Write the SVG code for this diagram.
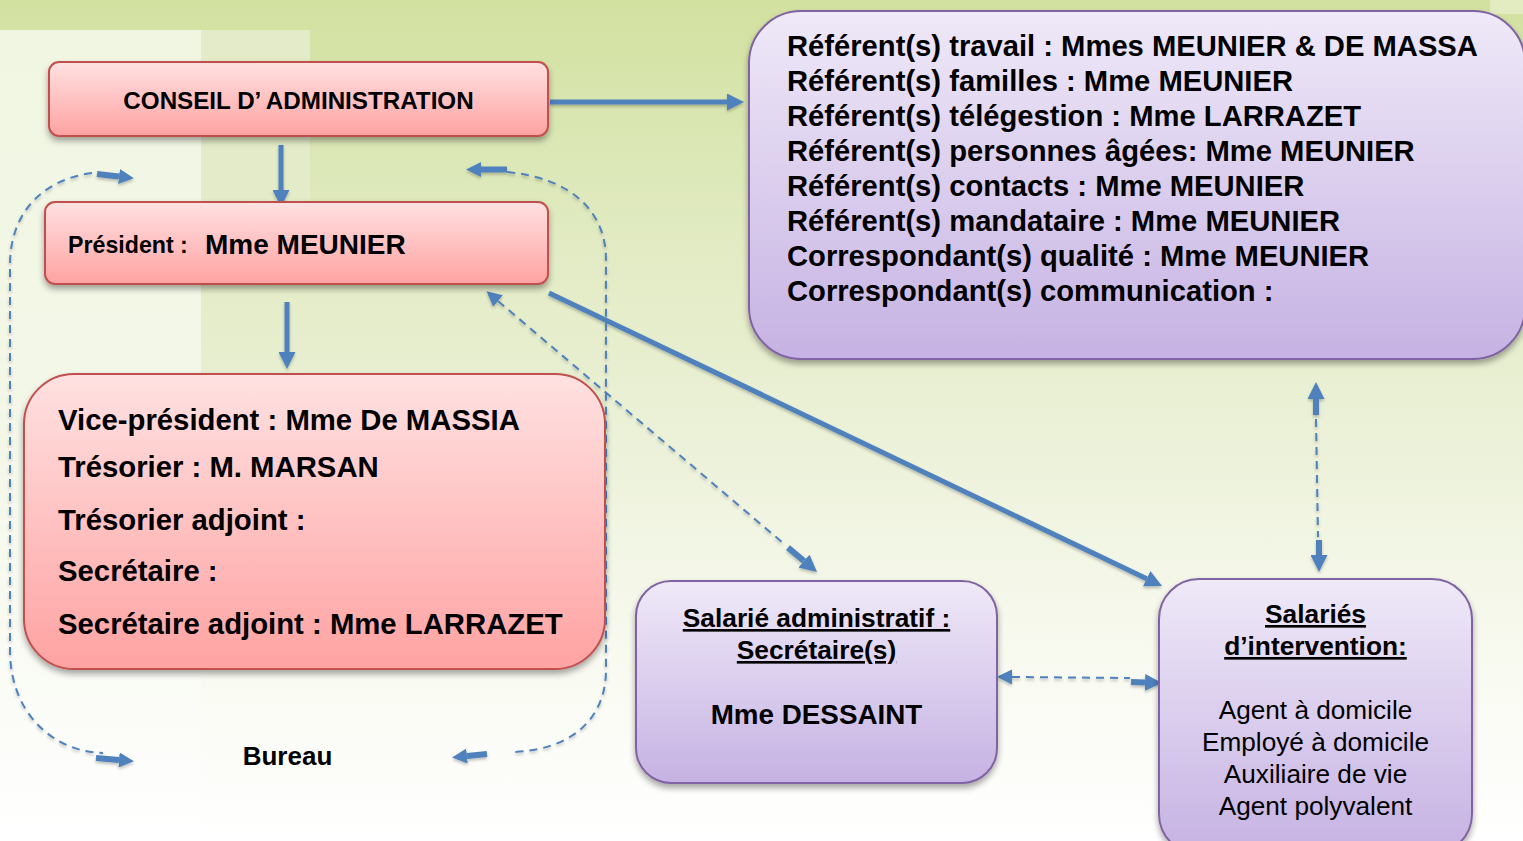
<svg xmlns="http://www.w3.org/2000/svg" width="1523" height="841" viewBox="0 0 1523 841">
<defs>
<style>
.t{font-family:"Liberation Sans",Arial,sans-serif;font-weight:bold;fill:#000}
.r{font-family:"Liberation Sans",Arial,sans-serif;font-weight:normal;fill:#000}
.pink{fill:url(#gPink);stroke:#c0504d;stroke-width:2}
.purp{fill:url(#gPurp);stroke:#8064a2;stroke-width:2}
.sol{fill:none;stroke:#4f81bd;stroke-width:5}
.stub{fill:none;stroke:#4f81bd;stroke-width:6}
.dash{fill:none;stroke:#4f81bd;stroke-width:2;stroke-dasharray:8 6}
.u{text-decoration:underline}
</style>
<linearGradient id="bg" x1="0" y1="0" x2="0" y2="1">
<stop offset="0" stop-color="#d2e1a0"/>
<stop offset="0.3" stop-color="#e2ebc4"/>
<stop offset="0.55" stop-color="#edf2db"/>
<stop offset="0.78" stop-color="#f8faf0"/>
<stop offset="1" stop-color="#ffffff"/>
</linearGradient>
<linearGradient id="bgL" x1="0" y1="0" x2="0" y2="1">
<stop offset="0" stop-color="#f1f6e2"/>
<stop offset="0.5" stop-color="#f3f7e8"/>
<stop offset="1" stop-color="#ffffff"/>
</linearGradient>
<linearGradient id="gPink" x1="0" y1="0" x2="0" y2="1">
<stop offset="0" stop-color="#ffe1e1"/>
<stop offset="1" stop-color="#ffa2a2"/>
</linearGradient>
<linearGradient id="gPurp" x1="0" y1="0" x2="0" y2="1">
<stop offset="0" stop-color="#efe9f8"/>
<stop offset="1" stop-color="#c6b2e3"/>
</linearGradient>
<filter id="sh" x="-10%" y="-10%" width="120%" height="130%">
<feDropShadow dx="0" dy="4" stdDeviation="3" flood-color="#000" flood-opacity="0.35"/>
</filter>
<filter id="ash" x="-20%" y="-20%" width="140%" height="140%">
<feDropShadow dx="0" dy="2" stdDeviation="1.5" flood-color="#000" flood-opacity="0.25"/>
</filter>
<marker id="ah" markerUnits="userSpaceOnUse" viewBox="0 0 17 17" markerWidth="17" markerHeight="17" refX="0" refY="8.5" orient="auto">
<path d="M0,0 L17,8.5 L0,17 z" fill="#4f81bd"/>
</marker>
<marker id="as" markerUnits="userSpaceOnUse" viewBox="0 0 15 15" markerWidth="15" markerHeight="15" refX="0" refY="7.5" orient="auto-start-reverse">
<path d="M0,0 L15,7.5 L0,15 z" fill="#4f81bd"/>
</marker>
</defs>

<g id="background">
<rect x="0" y="0" width="1523" height="841" fill="url(#bg)"/>
<rect x="0" y="30" width="201" height="811" fill="url(#bgL)"/>
<rect x="201" y="30" width="109" height="180" fill="#e3ebc8"/>
<rect x="1490" y="0" width="33" height="14" fill="#e2ecc0"/>
</g>

<g id="connectors" filter="url(#ash)">
<path class="sol" d="M550,102 L727,102" marker-end="url(#ah)"/>
<path class="sol" d="M281,145 L281,190" marker-end="url(#ah)"/>
<path class="sol" d="M287,302 L287,352" marker-end="url(#ah)"/>
<path class="sol" d="M549,293 L1146.7,578.7" marker-end="url(#ah)"/>
<path class="dash" d="M498,301 L783,543" marker-start="url(#as)"/>
<path class="stub" d="M788,547.6 L804,561" marker-end="url(#ah)"/>
<path class="dash" d="M1012,677 L1130,678" marker-start="url(#as)"/>
<path class="stub" d="M1131,682 L1145,682.5" marker-end="url(#ah)"/>
<path class="stub" d="M1316,415 L1316,399" marker-end="url(#ah)"/>
<path class="dash" d="M1316,419 L1318,537"/>
<path class="stub" d="M1319,540 L1319,555" marker-end="url(#ah)"/>
<path class="dash" d="M92,173 C40,180 10,215 10,265 L10,650 C10,715 55,752 103,753"/>
<path class="stub" d="M97,174 L119,176.5" marker-end="url(#as)"/>
<path class="stub" d="M96,758 L119,760" marker-end="url(#as)"/>
<path class="dash" d="M507,172 C570,178 606,210 606,260 L606,670 C606,720 570,750 513,752"/>
<path class="stub" d="M507,169.5 L481,169.5" marker-end="url(#as)"/>
<path class="stub" d="M487,754 L467,756" marker-end="url(#as)"/>
</g>

<g id="conseil">
<rect class="pink" x="49" y="62" width="499" height="74" rx="10" filter="url(#sh)"/>
<text class="t" x="298.5" y="109" font-size="24.2" text-anchor="middle">CONSEIL D’ ADMINISTRATION</text>
</g>

<g id="president">
<rect class="pink" x="45" y="202" width="503" height="82" rx="10" filter="url(#sh)"/>
<text class="t" x="68" y="253" font-size="23.2">Président :</text>
<text class="t" x="205" y="254" font-size="28">Mme MEUNIER</text>
</g>

<g id="bureau-membres">
<rect class="pink" x="24" y="374" width="581" height="295" rx="50" filter="url(#sh)"/>
<text class="t" x="58" y="430" font-size="29.3">Vice-président : Mme De MASSIA</text>
<text class="t" x="58" y="477" font-size="29.3">Trésorier : M. MARSAN</text>
<text class="t" x="58" y="530" font-size="29.3">Trésorier adjoint :</text>
<text class="t" x="58" y="581" font-size="29.3">Secrétaire :</text>
<text class="t" x="58" y="634" font-size="29.3">Secrétaire adjoint : Mme LARRAZET</text>
</g>

<g id="bureau-label">
<text class="t" x="287.5" y="765" font-size="26" text-anchor="middle">Bureau</text>
</g>

<g id="referents">
<rect class="purp" x="749" y="11" width="776" height="348" rx="52" filter="url(#sh)"/>
<text class="t" x="787" y="56" font-size="29.2">Référent(s) travail : Mmes MEUNIER &amp; DE MASSA</text>
<text class="t" x="787" y="91" font-size="29.2">Référent(s) familles : Mme MEUNIER</text>
<text class="t" x="787" y="126" font-size="29.2">Référent(s) télégestion : Mme LARRAZET</text>
<text class="t" x="787" y="161" font-size="29.2">Référent(s) personnes âgées: Mme MEUNIER</text>
<text class="t" x="787" y="196" font-size="29.2">Référent(s) contacts : Mme MEUNIER</text>
<text class="t" x="787" y="231" font-size="29.2">Référent(s) mandataire : Mme MEUNIER</text>
<text class="t" x="787" y="266" font-size="29.2">Correspondant(s) qualité : Mme MEUNIER</text>
<text class="t" x="787" y="301" font-size="29.2">Correspondant(s) communication :</text>
</g>

<g id="salarie-admin">
<rect class="purp" x="636" y="581" width="361" height="202" rx="35" filter="url(#sh)"/>
<text class="t u" x="816.5" y="627" font-size="26.3" text-anchor="middle">Salarié administratif :</text>
<text class="t u" x="816.5" y="659" font-size="26.3" text-anchor="middle">Secrétaire(s)</text>
<text class="t" x="816.5" y="724" font-size="27.8" text-anchor="middle">Mme DESSAINT</text>
</g>

<g id="salaries-intervention">
<rect class="purp" x="1159" y="579" width="313" height="275" rx="40" filter="url(#sh)"/>
<text class="t u" x="1315.5" y="623" font-size="26.3" text-anchor="middle">Salariés</text>
<text class="t u" x="1315.5" y="655" font-size="26.3" text-anchor="middle">d’intervention:</text>
<text class="r" x="1315.5" y="719" font-size="26.2" text-anchor="middle">Agent à domicile</text>
<text class="r" x="1315.5" y="751" font-size="26.2" text-anchor="middle">Employé à domicile</text>
<text class="r" x="1315.5" y="783" font-size="26.2" text-anchor="middle">Auxiliaire de vie</text>
<text class="r" x="1315.5" y="815" font-size="26.2" text-anchor="middle">Agent polyvalent</text>
</g>
</svg>
